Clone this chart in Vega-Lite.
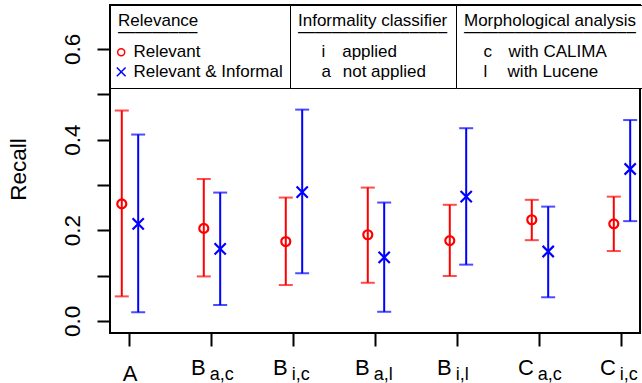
{
  "$schema": "https://vega.github.io/schema/vega-lite/v6.json",
  "width": 530,
  "height": 328,
  "autosize": {"type": "none"},
  "padding": {"left": 110, "top": 5, "right": 2, "bottom": 50},
  "background": "white",
  "config": {
    "font": "Liberation Sans",
    "view": {"stroke": "black", "strokeWidth": 2},
    "axis": {"grid": false, "domain": false, "labelFont": "Liberation Sans", "titleFont": "Liberation Sans", "labelColor": "black", "titleColor": "black", "tickColor": "black", "tickWidth": 2, "tickSize": 13},
    "legend": {"strokeColor": "black", "fillColor": "white", "padding": 8, "labelFont": "Liberation Sans", "labelFontSize": 17, "titleFont": "Liberation Sans", "titleFontSize": 17, "titleFontWeight": "normal", "labelColor": "black", "titleColor": "black", "symbolSize": 49, "symbolStrokeWidth": 1.5, "symbolOffset": -5.3, "labelOffset": 3.7, "rowPadding": 1.5, "titlePadding": 3}
  },
  "datasets": {
    "stats": [
      {"cfg": "A", "series": "Relevant", "lo": 0.054, "mid": 0.258, "hi": 0.464},
      {"cfg": "A", "series": "Relevant & Informal", "lo": 0.019, "mid": 0.214, "hi": 0.411},
      {"cfg": "B a,c", "series": "Relevant", "lo": 0.098, "mid": 0.204, "hi": 0.313},
      {"cfg": "B a,c", "series": "Relevant & Informal", "lo": 0.035, "mid": 0.159, "hi": 0.283},
      {"cfg": "B i,c", "series": "Relevant", "lo": 0.079, "mid": 0.175, "hi": 0.272},
      {"cfg": "B i,c", "series": "Relevant & Informal", "lo": 0.105, "mid": 0.284, "hi": 0.466},
      {"cfg": "B a,l", "series": "Relevant", "lo": 0.084, "mid": 0.190, "hi": 0.294},
      {"cfg": "B a,l", "series": "Relevant & Informal", "lo": 0.020, "mid": 0.140, "hi": 0.261},
      {"cfg": "B i,l", "series": "Relevant", "lo": 0.099, "mid": 0.177, "hi": 0.256},
      {"cfg": "B i,l", "series": "Relevant & Informal", "lo": 0.124, "mid": 0.274, "hi": 0.425},
      {"cfg": "C a,c", "series": "Relevant", "lo": 0.178, "mid": 0.223, "hi": 0.267},
      {"cfg": "C a,c", "series": "Relevant & Informal", "lo": 0.052, "mid": 0.153, "hi": 0.252},
      {"cfg": "C i,c", "series": "Relevant", "lo": 0.154, "mid": 0.214, "hi": 0.274},
      {"cfg": "C i,c", "series": "Relevant & Informal", "lo": 0.220, "mid": 0.335, "hi": 0.443}
    ],
    "informality": [{"code": "i"}, {"code": "a"}],
    "morphology": [{"code": "c"}, {"code": "l"}]
  },
  "layer": [
    {
      "data": {"name": "stats"},
      "mark": {"type": "point", "filled": false, "strokeWidth": 2.2, "opacity": 1, "size": 81},
      "encoding": {
        "x": {"field": "cfg", "type": "nominal", "title": null,
          "scale": {"domain": ["A", "B a,c", "B i,c", "B a,l", "B i,l", "C a,c", "C i,c"], "paddingInner": 0.6, "paddingOuter": 0.0317, "align": 0.69},
          "axis": {"orient": "bottom", "labelExpr": "split(datum.value, ' ')[0]", "labelFontSize": 22, "labelAngle": 0, "labelBaseline": "top", "labelOverlap": false,
            "labelAlign": {"condition": {"test": "datum.value == 'A'", "value": "center"}, "value": "right"},
            "labelOffset": {"condition": {"test": "datum.value == 'A'", "value": 0}, "value": -6.2},
            "labelPadding": {"condition": {"test": "datum.value == 'A'", "value": 17}, "value": 11},
            "tickSize": 13, "tickWidth": 2, "domain": false, "title": null}},
        "xOffset": {"field": "series", "type": "nominal", "scale": {"domain": ["Relevant", "Relevant & Informal"], "paddingInner": 0, "paddingOuter": 0}},
        "y": {"field": "mid", "type": "quantitative", "title": "Recall",
          "scale": {"domain": [-0.0268, 0.6968], "nice": false, "zero": false},
          "axis": {"values": [0, 0.1, 0.2, 0.3, 0.4, 0.5, 0.6], "labelExpr": "indexof([0, 0.2, 0.4, 0.6], datum.value) >= 0 ? format(datum.value, '.1f') : ''", "labelAngle": 270, "labelAlign": "center", "labelBaseline": "alphabetic", "labelFontSize": 22.5, "labelPadding": 17.5, "titleFontSize": 22.5, "titleFontWeight": "normal", "titleAngle": 270, "titleX": -85, "titleY": 164, "titleBaseline": "alphabetic", "titleAlign": "center", "tickSize": 13, "tickWidth": 2, "domain": false, "grid": false, "labelOverlap": false}},
        "color": {"field": "series", "type": "nominal", "scale": {"domain": ["Relevant", "Relevant & Informal"], "range": ["#FF0000", "#0000FF"]},
          "legend": {"orient": "none", "title": ["Relevance", "\u2014\u2014\u2014\u2013\u2013\u2013"], "titleLineHeight": 10.8, "legendX": 0, "legendY": 0, "labelExpr": "datum.label + '\u2009'"}},
        "shape": {"field": "series", "type": "nominal", "scale": {"domain": ["Relevant", "Relevant & Informal"], "range": ["circle", "M-1.25,-1.25L1.25,1.25M-1.25,1.25L1.25,-1.25"]},
          "legend": {"orient": "none", "title": ["Relevance", "\u2014\u2014\u2014\u2013\u2013\u2013"], "titleLineHeight": 10.8, "legendX": 0, "legendY": 0, "labelExpr": "datum.label + '\u2009'"}}
      }
    },
    {
      "data": {"name": "stats"},
      "mark": {"type": "rule", "strokeWidth": 2},
      "encoding": {
        "x": {"field": "cfg", "type": "nominal", "title": null,
          "scale": {"domain": ["A", "B a,c", "B i,c", "B a,l", "B i,l", "C a,c", "C i,c"], "paddingInner": 0.6, "paddingOuter": 0.0317, "align": 0.69},
          "axis": {"orient": "bottom", "ticks": false, "domain": false, "labelExpr": "length(split(datum.value, ' ')) > 1 ? split(datum.value, ' ')[1] : ''", "labelFontSize": 18, "labelAlign": "left", "labelOffset": -2.3, "labelPadding": 32, "labelBaseline": "top", "labelAngle": 0, "labelOverlap": false, "title": null}},
        "xOffset": {"field": "series", "type": "nominal", "scale": {"domain": ["Relevant", "Relevant & Informal"], "paddingInner": 0, "paddingOuter": 0}},
        "y": {"field": "lo", "type": "quantitative", "title": "Recall",
          "scale": {"domain": [-0.0268, 0.6968], "nice": false, "zero": false}},
        "y2": {"field": "hi"},
        "color": {"condition": {"test": "datum.series === 'Relevant'", "value": "#FF0000"}, "value": "#0000FF"}
      }
    },
    {
      "data": {"name": "stats"},
      "mark": {"type": "tick", "orient": "horizontal", "size": 14, "thickness": 2},
      "encoding": {
        "x": {"field": "cfg", "type": "nominal", "axis": null,
          "scale": {"domain": ["A", "B a,c", "B i,c", "B a,l", "B i,l", "C a,c", "C i,c"], "paddingInner": 0.6, "paddingOuter": 0.0317, "align": 0.69}},
        "xOffset": {"field": "series", "type": "nominal", "scale": {"domain": ["Relevant", "Relevant & Informal"], "paddingInner": 0, "paddingOuter": 0}},
        "y": {"field": "lo", "type": "quantitative", "title": "Recall",
          "scale": {"domain": [-0.0268, 0.6968], "nice": false, "zero": false}},
        "color": {"condition": {"test": "datum.series === 'Relevant'", "value": "#FF0000"}, "value": "#0000FF"}
      }
    },
    {
      "data": {"name": "stats"},
      "mark": {"type": "tick", "orient": "horizontal", "size": 14, "thickness": 2},
      "encoding": {
        "x": {"field": "cfg", "type": "nominal", "axis": null,
          "scale": {"domain": ["A", "B a,c", "B i,c", "B a,l", "B i,l", "C a,c", "C i,c"], "paddingInner": 0.6, "paddingOuter": 0.0317, "align": 0.69}},
        "xOffset": {"field": "series", "type": "nominal", "scale": {"domain": ["Relevant", "Relevant & Informal"], "paddingInner": 0, "paddingOuter": 0}},
        "y": {"field": "hi", "type": "quantitative", "title": "Recall",
          "scale": {"domain": [-0.0268, 0.6968], "nice": false, "zero": false}},
        "color": {"condition": {"test": "datum.series === 'Relevant'", "value": "#FF0000"}, "value": "#0000FF"}
      }
    },
    {
      "data": {"name": "informality"},
      "mark": {"type": "point", "filled": true},
      "encoding": {
        "fill": {"field": "code", "type": "nominal", "scale": {"domain": ["i", "a"], "range": ["transparent", "transparent"]},
          "legend": {"orient": "none", "title": ["Informality classifier\u2002\u2009", "\u2014\u2014\u2014\u2014\u2014\u2014\u2013\u2013\u2013\u2013\u2013"], "titleLineHeight": 10.8, "legendX": 180, "legendY": 0, "symbolOpacity": 0, "labelOffset": 11.7,
            "labelExpr": "datum.label == 'i' ? 'i\u2003applied' : 'a\u2002\u2009not applied'"}}
      }
    },
    {
      "data": {"name": "morphology"},
      "mark": {"type": "point", "filled": false},
      "encoding": {
        "stroke": {"field": "code", "type": "nominal", "scale": {"domain": ["c", "l"], "range": ["transparent", "transparent"]},
          "legend": {"orient": "none", "title": ["Morphological analysis\u2002", "\u2014\u2014\u2014\u2014\u2014\u2014\u2014\u2014\u2014\u2013\u2013"], "titleLineHeight": 10.8, "legendX": 346, "legendY": 0, "symbolOpacity": 0, "labelOffset": 7.7,
            "labelExpr": "datum.label == 'c' ? 'c\u2002\u2009 with CALIMA' : 'l\u2003\u2009with Lucene'"}}
      }
    }
  ],
  "resolve": {"axis": {"x": "independent"}}
}
